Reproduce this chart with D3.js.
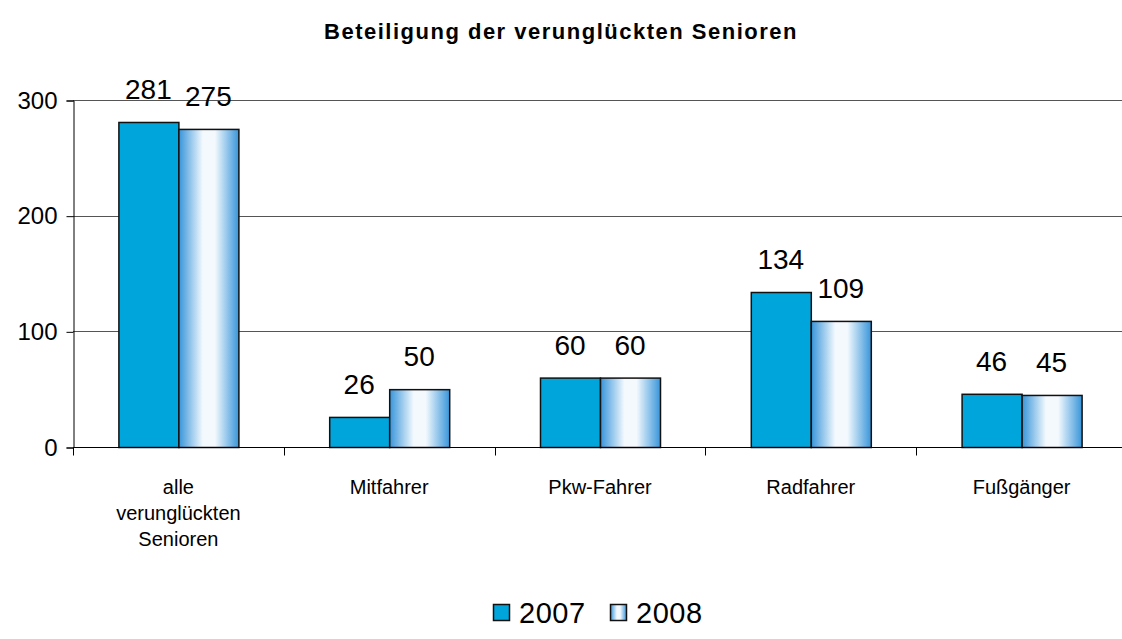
<!DOCTYPE html>
<html lang="de">
<head>
<meta charset="utf-8">
<title>Beteiligung der verunglückten Senioren</title>
<style>
  body { margin: 0; background: #fff; }
  svg { display: block; font-family: "Liberation Sans", Arial, sans-serif; }
  .title { font-size: 22px; font-weight: bold; letter-spacing: 1.5px; }
  .tick text { font-size: 24px; fill: #000; }
  .val { font-size: 28px; fill: #000; }
  .cat { font-size: 20px; fill: #000; }
  .legend text { font-size: 29px; fill: #000; letter-spacing: 0.5px; }
</style>
</head>
<body>
<svg width="1122" height="639"></svg>
<script src="https://d3js.org/d3.v7.min.js"></script>
<script>
  var categories = [["alle", "verunglückten", "Senioren"], ["Mitfahrer"], ["Pkw-Fahrer"], ["Radfahrer"], ["Fußgänger"]];
  var years = ["2007", "2008"];
  var values2007 = [281, 26, 60, 134, 46];
  var values2008 = [275, 50, 60, 109, 45];
  var yTicks = [0, 100, 200, 300];

  var svg = d3.select("svg");
  var plotLeft = 73, plotRight = 1127, plotTop = 100, plotBottom = 447;

  // gradient for the 2008 bars
  var defs = svg.append("defs");
  var grad = defs.append("linearGradient")
    .attr("id", "g2008")
    .attr("x1", "0%").attr("x2", "100%").attr("y1", "0%").attr("y2", "0%");
  grad.append("stop").attr("offset", "0%").attr("stop-color", "#3895da");
  grad.append("stop").attr("offset", "40%").attr("stop-color", "#f4f9fe");
  grad.append("stop").attr("offset", "60%").attr("stop-color", "#f4f9fe");
  grad.append("stop").attr("offset", "100%").attr("stop-color", "#3895da");

  var colors = { "2007": "#00a5dc", "2008": "url(#g2008)" };

  var x = d3.scaleBand()
    .domain(d3.range(categories.length))
    .range([plotLeft, plotRight]);

  var y = d3.scaleLinear()
    .domain([0, 300])
    .range([plotBottom, plotTop]);

  var barW = 60;
  var xs = d3.scaleBand().domain(years).range([x.bandwidth() / 2 - barW, x.bandwidth() / 2 + barW]);

  svg.append("text")
    .attr("class", "title")
    .attr("x", 561)
    .attr("y", 39)
    .attr("text-anchor", "middle")
    .text("Beteiligung der verunglückten Senioren");

  // gridlines
  svg.append("g")
    .selectAll("line")
    .data(yTicks.slice(1))
    .join("line")
      .attr("x1", plotLeft).attr("x2", 1122)
      .attr("y1", function(d) { return Math.round(y(d)) + 0.5; })
      .attr("y2", function(d) { return Math.round(y(d)) + 0.5; })
      .attr("stroke", "#555")
      .attr("stroke-width", 1);

  var yAxis = svg.append("g")
    .attr("transform", "translate(" + (plotLeft + 0.5) + ",0.5)")
    .call(d3.axisLeft(y).tickValues(yTicks).tickSize(7).tickPadding(9));
  yAxis.select(".domain").attr("stroke", "#000");
  yAxis.selectAll(".tick line").attr("stroke", "#000");
  yAxis.selectAll(".tick text").attr("font-family", null).attr("font-size", null);

  var rows = categories.map(function(c, i) {
    return { i: i, v: [ { k: "2007", v: values2007[i] }, { k: "2008", v: values2008[i] } ] };
  });

  var groups = svg.append("g")
    .selectAll("g")
    .data(rows)
    .join("g")
      .attr("transform", function(d) { return "translate(" + x(d.i) + ",0)"; });

  groups.selectAll("rect")
    .data(function(d) { return d.v; })
    .join("rect")
      .attr("x", function(d) { return xs(d.k) + 0.5; })
      .attr("y", function(d) { return y(d.v) + 0.5; })
      .attr("width", xs.bandwidth())
      .attr("height", function(d) { return y(0) - y(d.v); })
      .attr("fill", function(d) { return colors[d.k]; })
      .attr("stroke", "#111")
      .attr("stroke-width", 1.5);

  groups.selectAll("text")
    .data(function(d) { return d.v; })
    .join("text")
      .attr("class", "val")
      .attr("x", function(d) { return xs(d.k) + xs.bandwidth() / 2; })
      .attr("y", function(d) { return y(d.v) - 23; })
      .attr("text-anchor", "middle")
      .text(function(d) { return d.v; });

  // x axis line and category boundaries
  var xAxis = svg.append("g")
    .attr("transform", "translate(0," + (plotBottom + 0.5) + ")");
  xAxis.append("line")
    .attr("x1", plotLeft).attr("x2", 1122)
    .attr("stroke", "#000");
  xAxis.selectAll(".bnd")
    .data(d3.range(categories.length + 1))
    .join("line")
      .attr("class", "bnd")
      .attr("x1", function(d) { return Math.round(plotLeft + d * x.step()) + 0.5; })
      .attr("x2", function(d) { return Math.round(plotLeft + d * x.step()) + 0.5; })
      .attr("y1", 0).attr("y2", 8)
      .attr("stroke", "#000");

  var cats = svg.append("g")
    .selectAll("text")
    .data(rows)
    .join("text")
      .attr("class", "cat")
      .attr("text-anchor", "middle")
      .attr("x", function(d) { return x(d.i) + x.bandwidth() / 2; })
      .attr("y", 494);
  cats.selectAll("tspan")
    .data(function(d) { return categories[d.i].map(function(s) { return { s: s, cx: x(d.i) + x.bandwidth() / 2 }; }); })
    .join("tspan")
      .attr("x", function(d) { return d.cx; })
      .attr("dy", function(d, i) { return i === 0 ? 0 : 26; })
      .text(function(d) { return d.s; });

  // legend
  var legend = svg.append("g").attr("class", "legend");
  var lx = [493, 610];
  years.forEach(function(k, i) {
    legend.append("rect")
      .attr("x", lx[i] + 0.5).attr("y", 604.5)
      .attr("width", 16).attr("height", 16)
      .attr("fill", colors[k])
      .attr("stroke", "#111").attr("stroke-width", 1.5);
    legend.append("text")
      .attr("x", lx[i] + 26).attr("y", 623)
      .text(k);
  });
</script>
</body>
</html>
